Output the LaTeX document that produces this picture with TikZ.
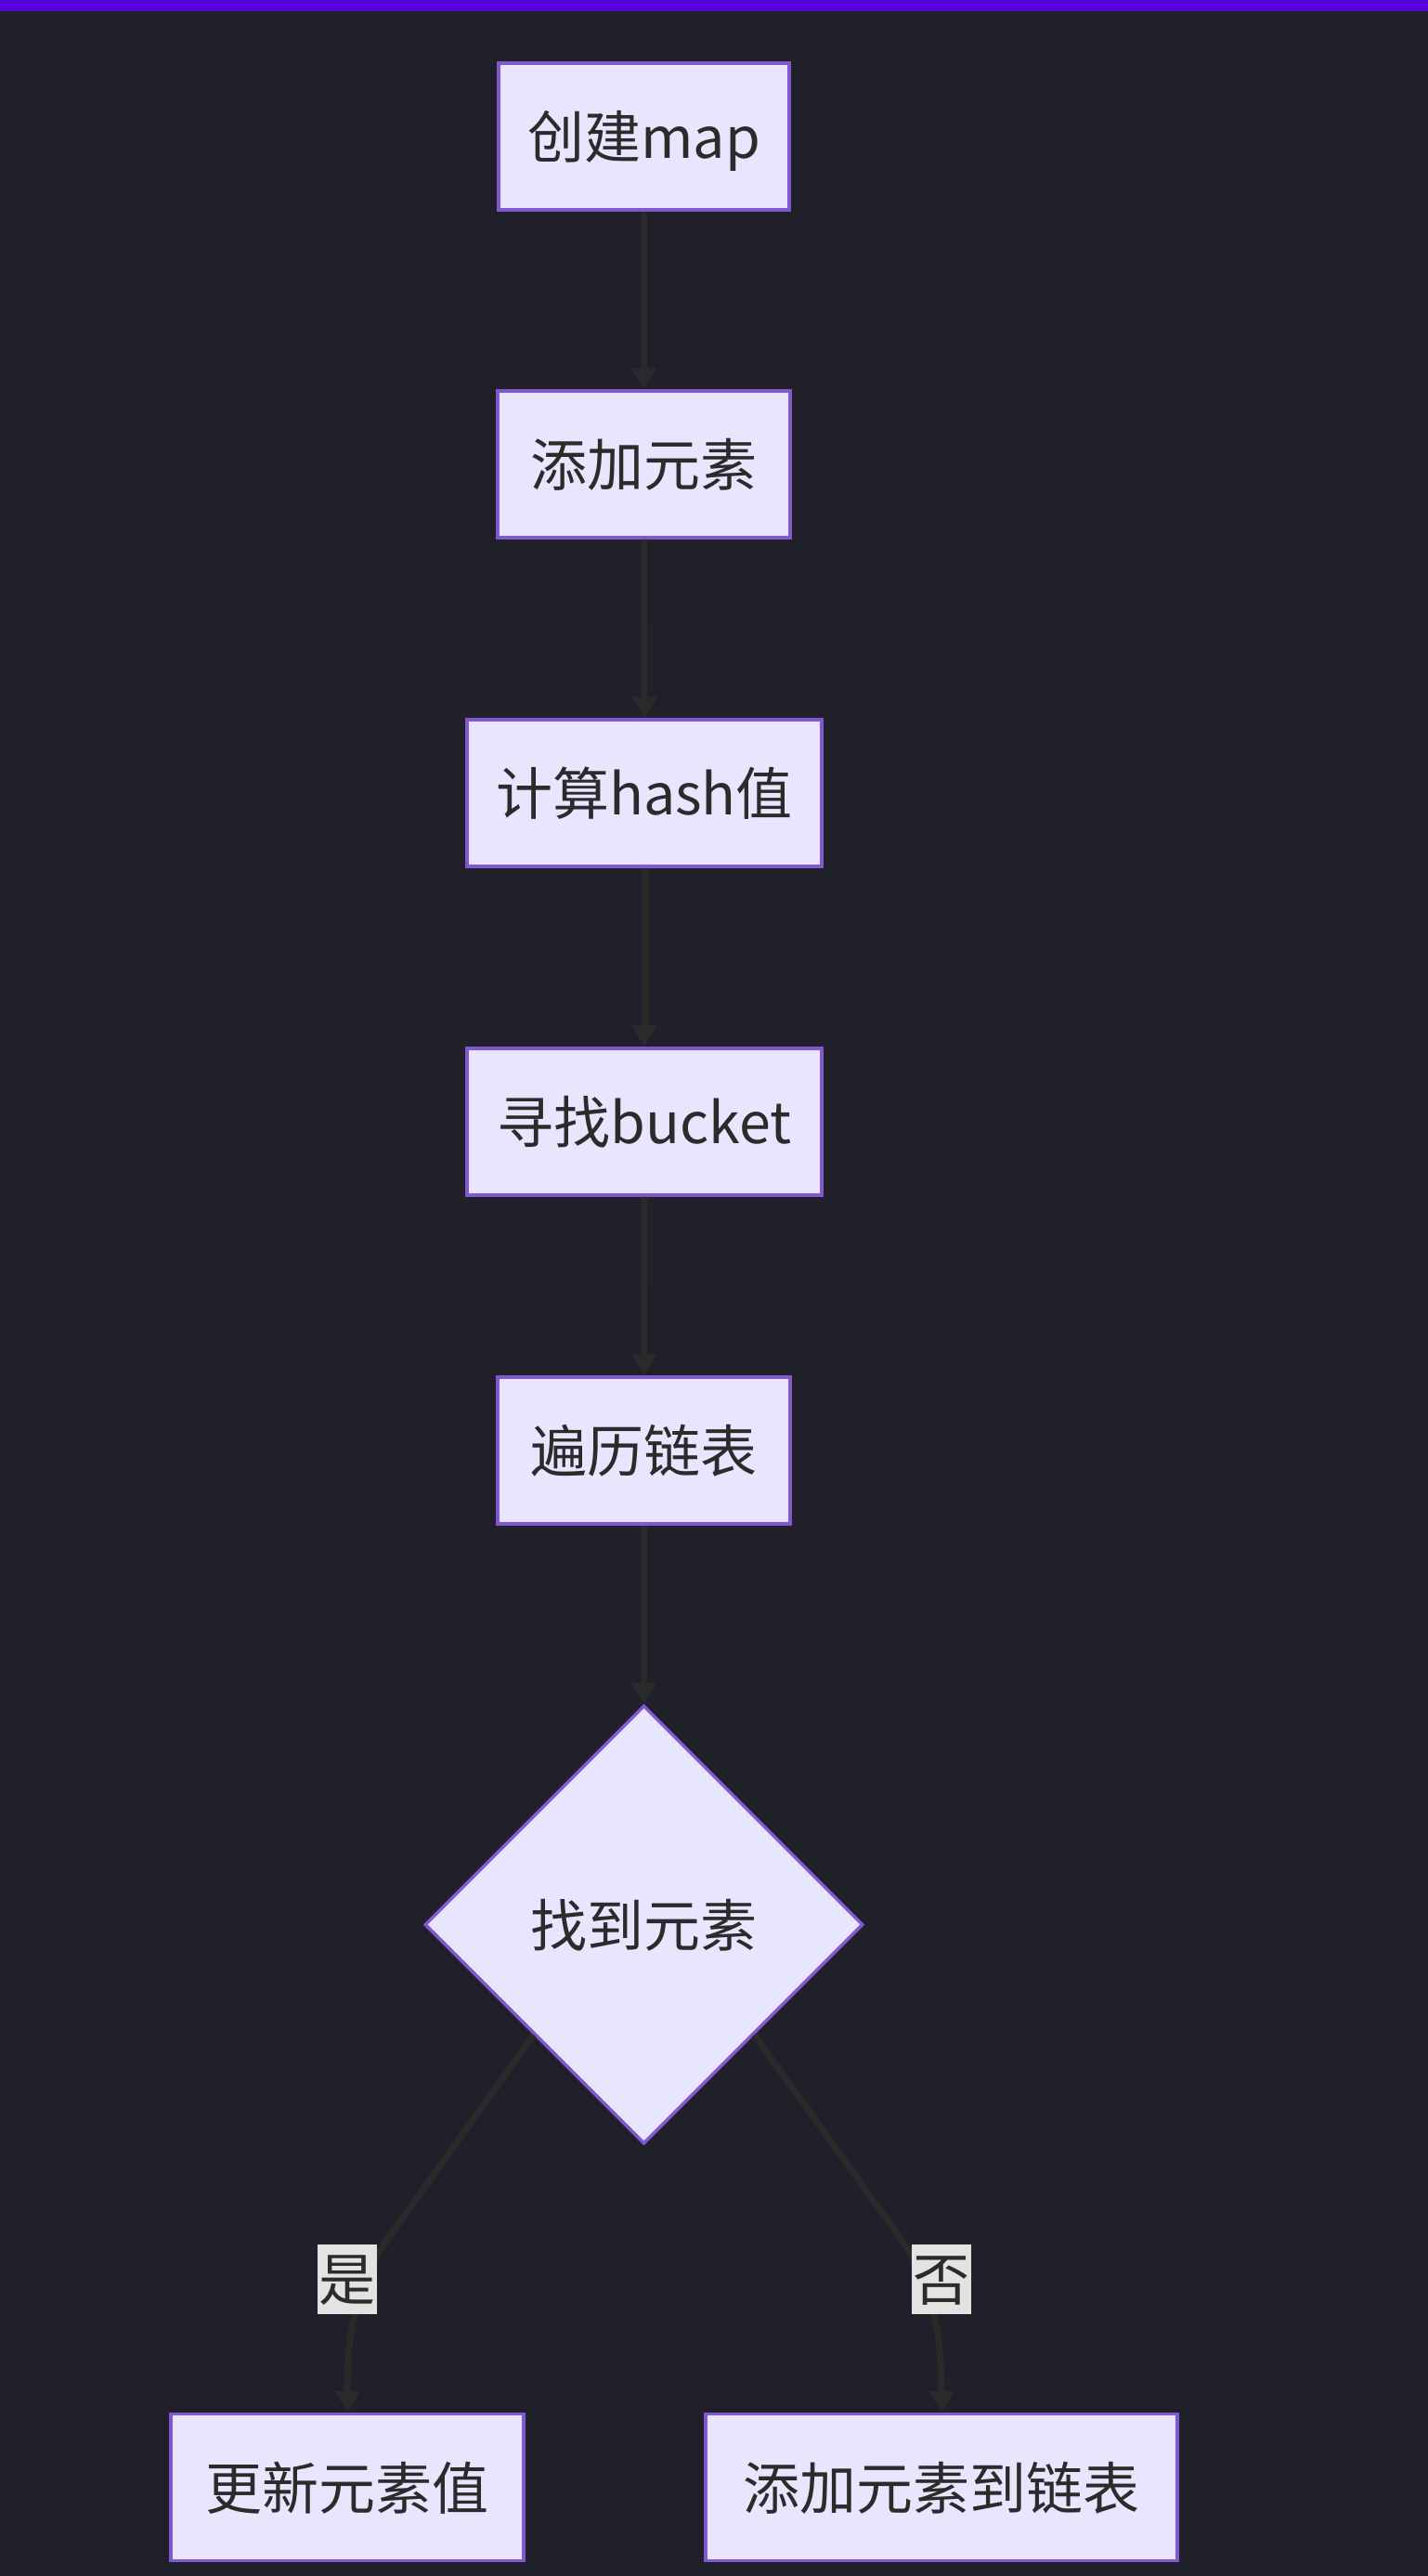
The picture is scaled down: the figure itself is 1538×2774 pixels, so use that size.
\documentclass[tikz,border=0pt]{standalone}
\usepackage{fontspec}
\setmainfont{Noto Sans CJK SC}
\usetikzlibrary{shapes.geometric,arrows.meta}
\definecolor{bgc}{HTML}{1F2029}
\definecolor{barc}{HTML}{5500DD}
\definecolor{edgec}{HTML}{2A2A2A}
\definecolor{borderc}{HTML}{8257D2}
\definecolor{fillc}{HTML}{E8E6FF}
\definecolor{textc}{HTML}{2B2B2B}
\definecolor{lblc}{HTML}{E3E3E3}
\tikzset{
  box/.style={draw=borderc, fill=fillc, line width=3.5pt, rectangle, minimum height=158pt,
    inner sep=0pt, text=textc, font=\fontsize{61}{74}\selectfont, text height=54pt, text depth=7pt},
  decision/.style={draw=borderc, fill=fillc, line width=3.5pt, diamond, aspect=1,
    minimum width=472pt, minimum height=472pt, inner sep=0pt, text=textc,
    font=\fontsize{61}{74}\selectfont, text height=54pt, text depth=7pt},
  edge/.style={draw=edgec, line width=7pt, -{Triangle[length=23pt,width=26pt]}},
  lbl/.style={fill=lblc, text=textc, inner sep=0pt, minimum width=64pt, minimum height=75pt,
    font=\fontsize{61}{74}\selectfont, text height=54pt, text depth=7pt}
}
\begin{document}
\begin{tikzpicture}[x=1pt,y=-1pt]
\useasboundingbox (0,0) rectangle (1538,2774);
\fill[bgc] (0,0) rectangle (1538,2774);
\fill[barc] (0,0) rectangle (1538,12);
% nodes
\node[box, minimum width=313pt] (n1) at (693.5,147) {创建map};
\node[box, minimum width=315pt] (n2) at (693.5,500) {添加元素};
\node[box, minimum width=382pt] (n3) at (694,854) {计算hash值};
\node[box, minimum width=382pt] (n4) at (694,1208) {寻找bucket};
\node[box, minimum width=315pt] (n5) at (693.5,1562) {遍历链表};
\node[decision] (d) at (693.5,2072.5) {找到元素};
\node[box, minimum width=380pt] (u) at (374,2678.5) {更新元素值};
\node[box, minimum width=508pt] (a) at (1014,2678.5) {添加元素到链表};
% bend points of the curved connectors
\coordinate (lb) at (422,2405);
\coordinate (rb) at (966,2405);
% connectors
\draw[edge] (n1) -- (n2);
\draw[edge] (n2) -- (n3);
\draw[edge] (n3) -- (n4);
\draw[edge] (n4) -- (n5);
\draw[edge] (n5) -- (d);
\draw[edge] (d.south west) -- (lb) .. controls (388,2450) and (374,2500) .. (u.north);
\draw[edge] (d.south east) -- (rb) .. controls (1000,2450) and (1014,2500) .. (a.north);
% edge labels
\node[lbl] (ly) at (374,2454) {是};
\node[lbl] (ln) at (1014,2454) {否};
\end{tikzpicture}
\end{document}
